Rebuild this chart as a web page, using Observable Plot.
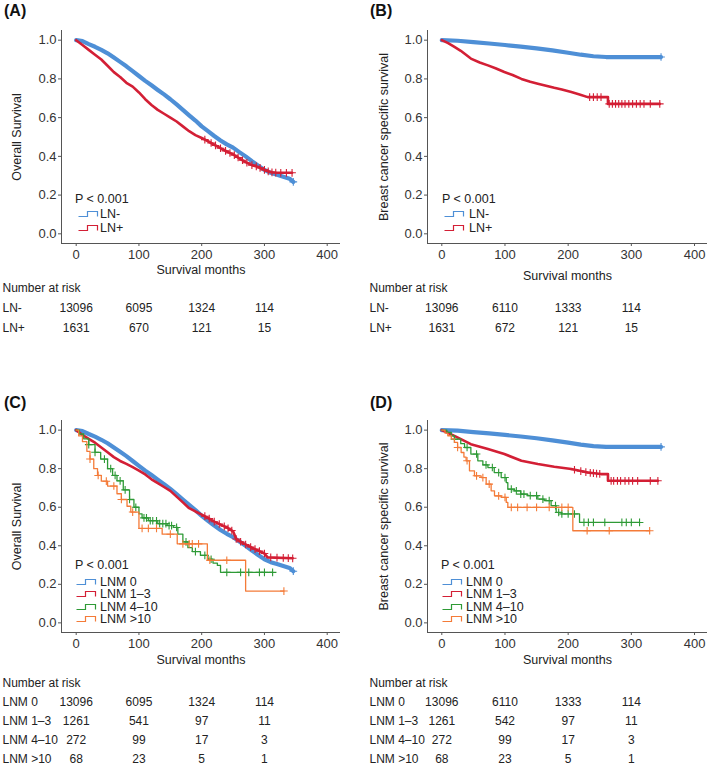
<!DOCTYPE html>
<html><head><meta charset="utf-8">
<script src="https://cdn.jsdelivr.net/npm/d3@7"></script>
<script src="https://cdn.jsdelivr.net/npm/@observablehq/plot@0.6"></script>
<style>
body{margin:0;background:#fff;font-family:"Liberation Sans",Arial,sans-serif;}
#root{position:relative;width:709px;height:768px;overflow:hidden;background:#fff;}
#root svg{position:absolute;overflow:visible;}
.plab{position:absolute;font-weight:bold;font-size:16px;color:#111;line-height:16px;}
.leg{position:absolute;font-size:12.5px;color:#222;line-height:14px;white-space:nowrap;}
</style></head><body><div id="root"></div>
<script>
// ---------------- DATA ----------------
const riskTimes = [0, 100, 200, 300];
const xTicks = [0, 100, 200, 300, 400];
const yTicks = [0, 0.2, 0.4, 0.6, 0.8, 1.0];

// Overall survival, LN- (= LNM 0)
const osLN0 = [[0,1],[10,0.995],[20,0.98],[30,0.966],[40,0.95],[50,0.932],[60,0.91],[70,0.888],[80,0.865],[90,0.84],[100,0.815],[110,0.79],[120,0.767],[130,0.743],[140,0.72],[150,0.695],[160,0.668],[170,0.64],[180,0.612],[190,0.585],[200,0.555],[210,0.53],[220,0.505],[230,0.482],[240,0.462],[250,0.445],[260,0.422],[270,0.40],[280,0.375],[290,0.352],[300,0.33],[310,0.315],[320,0.305],[330,0.295],[340,0.285],[346,0.268]];
// Overall survival, LN+
const osLNpos = [[0,1],[10,0.975],[20,0.95],[30,0.925],[40,0.90],[50,0.868],[60,0.835],[70,0.81],[80,0.78],[90,0.76],[100,0.73],[110,0.695],[120,0.665],[130,0.64],[140,0.62],[150,0.60],[160,0.58],[170,0.555],[180,0.53],[190,0.51],[200,0.495],[210,0.478],[220,0.46],[230,0.442],[240,0.425],[250,0.41],[260,0.39],[270,0.37],[280,0.355],[290,0.345],[300,0.33],[310,0.318],[320,0.315],[344,0.315]];
// Overall survival, LNM 1-3
const osLNM13 = [[0,1],[10,0.975],[20,0.955],[30,0.935],[40,0.91],[50,0.885],[60,0.86],[70,0.84],[80,0.825],[90,0.808],[100,0.79],[110,0.77],[120,0.745],[130,0.725],[140,0.705],[150,0.685],[160,0.655],[170,0.625],[180,0.595],[190,0.578],[200,0.562],[210,0.545],[220,0.525],[230,0.51],[240,0.495],[250,0.475],[255,0.435],[265,0.415],[280,0.39],[290,0.375],[300,0.36],[305,0.34],[345,0.335]];
// Overall survival, LNM 4-10
const osLNM410 = [[0,1],[5,0.98],[12,0.955],[20,0.925],[30,0.885],[39,0.85],[50,0.80],[58,0.765],[65,0.737],[75,0.69],[85,0.64],[92,0.60],[100,0.565],[105,0.545],[115,0.53],[130,0.515],[145,0.505],[155,0.495],[162,0.46],[170,0.42],[178,0.39],[185,0.37],[198,0.35],[210,0.33],[218,0.31],[225,0.298],[230,0.262],[313,0.262]];
// Overall survival, LNM >10
const osLNM10 = [[0,1],[4,0.97],[10,0.94],[17,0.89],[22,0.85],[28,0.80],[34,0.765],[40,0.735],[50,0.71],[65,0.67],[72,0.64],[81,0.605],[87,0.575],[100,0.49],[137,0.46],[161,0.41],[209,0.325],[270,0.165],[331,0.165]];

// Breast cancer specific survival
const bcLN0 = [[0,1],[25,0.997],[50,0.99],[75,0.983],[100,0.975],[125,0.967],[150,0.958],[175,0.947],[200,0.935],[220,0.925],[240,0.917],[260,0.913],[347,0.913]];
const bcLNpos = [[0,1],[10,0.985],[20,0.965],[30,0.945],[46,0.905],[60,0.885],[73,0.87],[85,0.855],[99,0.836],[112,0.82],[126,0.80],[140,0.785],[152,0.775],[165,0.765],[178,0.754],[190,0.745],[205,0.732],[218,0.72],[231,0.706],[263,0.706],[263,0.671],[345,0.671]];
const bcLNM13 = [[0,1],[20,0.97],[46,0.927],[73,0.902],[99,0.876],[126,0.841],[152,0.824],[178,0.81],[205,0.798],[231,0.78],[252,0.772],[263,0.772],[263,0.737],[342,0.737]];
const bcLNM410 = [[0,1],[8,0.988],[15,0.97],[20,0.953],[30,0.93],[36,0.91],[46,0.876],[57,0.841],[65,0.82],[73,0.806],[83,0.78],[94,0.754],[102,0.728],[104.5,0.694],[115,0.685],[125,0.668],[136,0.66],[152,0.642],[162,0.634],[173,0.608],[181,0.573],[189,0.565],[218,0.521],[313,0.521]];
const bcLNM10 = [[0,1],[5,0.985],[9.5,0.971],[15,0.955],[20,0.936],[25,0.91],[30.6,0.884],[35,0.86],[38.5,0.841],[43.8,0.789],[51.7,0.763],[62.3,0.754],[70.2,0.72],[78.1,0.685],[83.4,0.659],[94,0.651],[102,0.625],[104.5,0.599],[207.4,0.478],[329,0.478]];

// censoring times
const cOsLNpos = [205,215,222,230,238,245,252,258,265,272,280,287,293,300,306,312,318,326,335,344];
const cOsLNM13 = [205,212,220,228,236,242,248,255,262,270,278,285,292,300,310,320,330,338,345];
const cOsLNM410 = [20,30,45,55,62,70,78,85,95,108,112,118,122,128,133,138,143,148,152,160,175,190,205,215,240,262,275,292,300,313];
const cOsLNM10 = [22,35,48,60,72,90,105,115,128,150,170,180,185,195,213,240,331];
const cBcLNpos = [234,240,246,252,265,270,275,280,285,290,296,302,308,314,320,330,345];
const cBcLNM13 = [210,220,228,235,240,245,250,268,272,278,283,290,296,302,310,330,342];
const cBcLNM410 = [20,40,55,70,80,90,100,110,118,125,130,140,150,160,170,180,185,190,200,210,225,232,240,258,285,292,300,313];
const cBcLNM10 = [25,40,55,65,75,90,100,110,120,135,150,170,190,200,230,265,329];
const cEndLN0 = [346];
const cEndBcLN0 = [347];

// numbers at risk
const riskA_LNneg = [13096, 6095, 1324, 114];
const riskA_LNpos = [1631, 670, 121, 15];
const riskB_LNneg = [13096, 6110, 1333, 114];
const riskB_LNpos = [1631, 672, 121, 15];
const riskC_0 = [13096, 6095, 1324, 114];
const riskC_13 = [1261, 541, 97, 11];
const riskC_410 = [272, 99, 17, 3];
const riskC_10 = [68, 23, 5, 1];
const riskD_0 = [13096, 6110, 1333, 114];
const riskD_13 = [1261, 542, 97, 11];
const riskD_410 = [272, 99, 17, 3];
const riskD_10 = [68, 23, 5, 1];

const groups2 = ["LN-", "LN+"];
const groups4 = ["LNM 0", "LNM 1\u20133", "LNM 4\u201310", "LNM >10"];
const colors = {blue: "#4e8fd6", red: "#d31f35", green: "#2e9a36", orange: "#f47b38"};

// ---------------- HELPERS ----------------
const root = document.getElementById("root");
const FONT = "'Liberation Sans', Arial, sans-serif";

function valueAt(curve, t, step) {
  let prev = curve[0];
  for (let i = 1; i < curve.length; i++) {
    const p = curve[i];
    if (p[0] > t) {
      if (step || p[0] === prev[0]) return prev[1];
      return prev[1] + (p[1] - prev[1]) * (t - prev[0]) / (p[0] - prev[0]);
    }
    prev = p;
  }
  return prev[1];
}

function place(el, left, top) { el.style.left = left + "px"; el.style.top = top + "px"; root.appendChild(el); }

function mainPlot(cfg) {
  const W = cfg.W, ml = cfg.ml, mr = cfg.mr;
  const xDom = [(ml - cfg.x0) / cfg.k, (W - mr - cfg.x0) / cfg.k];
  const yDom = [-0.05, 1.05];
  const marks = [
    Plot.ruleX([xDom[0]], {stroke: "#555", strokeWidth: 1}),
    Plot.ruleY([yDom[0]], {stroke: "#555", strokeWidth: 1}),
    Plot.axisY({ticks: yTicks, tickFormat: d3.format(".1f"), tickSize: 3, tickPadding: 2, label: null, fontSize: 13, stroke: "#555"}),
    Plot.axisX({ticks: xTicks, tickFormat: d3.format("d"), tickSize: 3, tickPadding: 3, label: null, fontSize: 13, stroke: "#555"}),
    Plot.text([cfg.ytitle], {frameAnchor: "left", textAnchor: "middle", lineAnchor: "middle", dx: -cfg.ytitleDx, rotate: -90, fontSize: 12.5, fill: "#222"}),
    Plot.text(["Survival months"], {frameAnchor: "bottom", dy: cfg.xlabDy, fontSize: 12.5, fill: "#222"})
  ];
  for (const s of cfg.series) {
    marks.push(Plot.line(s.data, {x: d => d[0], y: d => d[1], curve: s.step ? "step-after" : "linear", stroke: s.color, strokeWidth: s.width, strokeLinejoin: "round"}));
    if (s.censor) marks.push(Plot.dot(s.censor, {x: d => d, y: d => valueAt(s.data, d, s.step), symbol: "plus", r: 2.6, stroke: s.color, strokeWidth: 1.1}));
  }
  const svg = Plot.plot({
    width: W, height: cfg.H, marginLeft: ml, marginRight: mr, marginTop: cfg.mt, marginBottom: cfg.mb,
    x: {domain: xDom}, y: {domain: yDom},
    style: {fontFamily: FONT, fontSize: "13px", color: "#333", background: "transparent"},
    marks
  });
  place(svg, cfg.left, cfg.top);
}

function riskPlot(cfg) {
  const W = cfg.W, mr = cfg.mr;
  const xDom = [-cfg.x0 / cfg.k, (W - mr - cfg.x0) / cfg.k];
  const rows = [];
  cfg.groups.forEach((g, gi) => cfg.values[gi].forEach((n, i) => rows.push({g, t: riskTimes[i], n})));
  const svg = Plot.plot({
    width: W, height: cfg.H, marginLeft: 0, marginRight: mr, marginTop: 0, marginBottom: 0,
    x: {domain: xDom, axis: null},
    y: {type: "point", domain: ["Number at risk", ...cfg.groups], range: cfg.range, padding: 0, axis: null},
    style: {fontFamily: FONT, fontSize: "12px", color: "#222", background: "transparent"},
    marks: [
      Plot.text(["Number at risk", ...cfg.groups], {y: d => d, text: d => d, frameAnchor: "left", textAnchor: "start", dx: cfg.labelDx, fontSize: 12, fill: "#222"}),
      Plot.text(rows, {x: "t", y: "g", text: d => String(d.n), fontSize: 12, fill: "#222"})
    ]
  });
  place(svg, cfg.left, cfg.top);
}

function legend(left, pY, items, iconDx, labelX) {
  const p = document.createElement("div");
  p.className = "leg"; p.textContent = "P < 0.001";
  place(p, left, pY - 7);
  for (const it of items) {
    const d = document.createElement("div");
    d.className = "leg";
    d.style.left = (left + iconDx) + "px"; d.style.top = (it.y - 7) + "px";
    d.innerHTML = `<svg width="22" height="10" style="position:absolute;left:0;top:2px"><path d="M0.5,7.5 H9.5 V2.5 H19.5 V7.5" fill="none" stroke="${it.color}" stroke-width="1.2"/></svg><span style="position:absolute;left:${labelX - left - iconDx}px;top:0">${it.label}</span>`;
    d.style.width = "120px"; d.style.height = "14px";
    root.appendChild(d);
  }
}

function panelLabel(text, left, cy) {
  const d = document.createElement("div");
  d.className = "plab"; d.textContent = text;
  place(d, left, cy - 8);
}

// ---------------- PANELS ----------------
const L = {x0: 75.7, k: 0.6275, W: 354, ml: 61, mr: 14, left: 0};
const R = {x0: 87.3, k: 0.6318, W: 355, ml: 73, mr: 2, left: 354};

// (A)
mainPlot({...L, top: 0, H: 285, mt: 30, mb: 42, ytitle: "Overall Survival", ytitleDx: 45, xlabDy: 30,
  series: [
    {data: osLN0, color: colors.blue, width: 4.2, censor: cEndLN0},
    {data: osLNpos, color: colors.red, width: 2.6, censor: cOsLNpos}
  ]});
riskPlot({...L, top: 280, H: 60, range: [8, 48], groups: groups2, values: [riskA_LNneg, riskA_LNpos], labelDx: 2});

// (B)
mainPlot({...R, top: 0, H: 285, mt: 30, mb: 42, ytitle: "Breast cancer specific survival", ytitleDx: 44, xlabDy: 36,
  series: [
    {data: bcLN0, color: colors.blue, width: 4.2, censor: cEndBcLN0},
    {data: bcLNpos, color: colors.red, width: 2.6, censor: cBcLNpos}
  ]});
riskPlot({...R, top: 280, H: 60, range: [8, 48], groups: groups2, values: [riskB_LNneg, riskB_LNpos], labelDx: 15});

// (C)
mainPlot({...L, top: 390, H: 285, mt: 30, mb: 43, ytitle: "Overall Survival", ytitleDx: 45, xlabDy: 31,
  series: [
    {data: osLN0, color: colors.blue, width: 4.2, censor: cEndLN0},
    {data: osLNM13, color: colors.red, width: 2.6, censor: cOsLNM13},
    {data: osLNM410, color: colors.green, width: 1.3, step: true, censor: cOsLNM410},
    {data: osLNM10, color: colors.orange, width: 1.3, step: true, censor: cOsLNM10}
  ]});
riskPlot({...L, top: 670, H: 98, range: [12, 90], groups: groups4, values: [riskC_0, riskC_13, riskC_410, riskC_10], labelDx: 2});

// (D)
mainPlot({...R, top: 390, H: 285, mt: 30, mb: 43, ytitle: "Breast cancer specific survival", ytitleDx: 44, xlabDy: 31,
  series: [
    {data: bcLN0, color: colors.blue, width: 4.2, censor: cEndBcLN0},
    {data: bcLNM13, color: colors.red, width: 2.6, censor: cBcLNM13},
    {data: bcLNM410, color: colors.green, width: 1.3, step: true, censor: cBcLNM410},
    {data: bcLNM10, color: colors.orange, width: 1.3, step: true, censor: cBcLNM10}
  ]});
riskPlot({...R, top: 670, H: 98, range: [12, 90], groups: groups4, values: [riskD_0, riskD_13, riskD_410, riskD_10], labelDx: 15});

// legends
legend(75, 199, [{label: groups2[0], color: colors.blue, y: 213.5}, {label: groups2[1], color: colors.red, y: 228}], 3, 100);
legend(442, 199, [{label: groups2[0], color: colors.blue, y: 213.5}, {label: groups2[1], color: colors.red, y: 228}], 2, 469);
const cy4 = [581.5, 594, 606.5, 619];
legend(75, 565, groups4.map((g, i) => ({label: g, color: [colors.blue, colors.red, colors.green, colors.orange][i], y: cy4[i]})), 1, 100);
legend(441, 565, groups4.map((g, i) => ({label: g, color: [colors.blue, colors.red, colors.green, colors.orange][i], y: cy4[i]})), 1, 466);

// panel labels
panelLabel("(A)", 4, 11);
panelLabel("(B)", 370, 11);
panelLabel("(C)", 4, 403);
panelLabel("(D)", 370, 403);
</script></body></html>
